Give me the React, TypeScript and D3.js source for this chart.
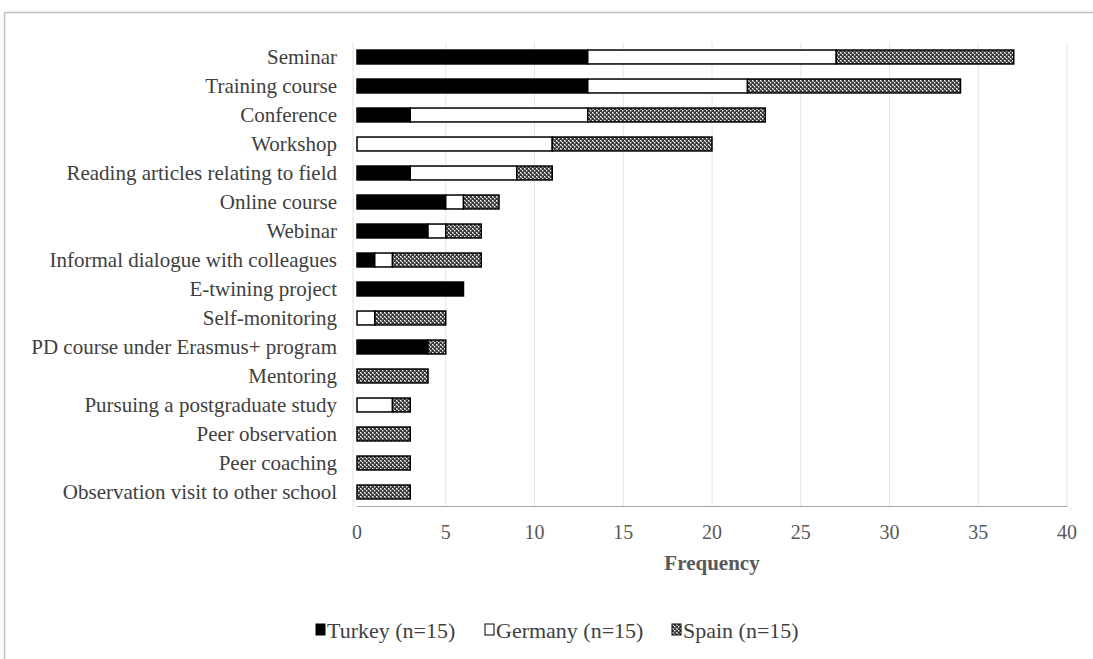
import React from "react";
import * as d3 from "d3";

const categories = [
  "Seminar",
  "Training course",
  "Conference",
  "Workshop",
  "Reading articles relating to field",
  "Online course",
  "Webinar",
  "Informal dialogue with colleagues",
  "E-twining project",
  "Self-monitoring",
  "PD course under Erasmus+ program",
  "Mentoring",
  "Pursuing a postgraduate study",
  "Peer observation",
  "Peer coaching",
  "Observation visit to other school",
];
const turkey = [13, 13, 3, 0, 3, 5, 4, 1, 6, 0, 4, 0, 0, 0, 0, 0];
const germany = [14, 9, 10, 11, 6, 1, 1, 1, 0, 1, 0, 0, 2, 0, 0, 0];
const spain = [10, 12, 10, 9, 2, 2, 2, 5, 0, 4, 1, 4, 1, 3, 3, 3];
const seriesNames = ["Turkey (n=15)", "Germany (n=15)", "Spain (n=15)"];
const xTicks = [0, 5, 10, 15, 20, 25, 30, 35, 40];

const W = 1093;
const H = 659;
const M = { left: 357, right: 1067, top: 42.5, bottom: 506.5 };
const FONT = "Liberation Serif, DejaVu Serif, serif";

export default function App() {
  const x = d3.scaleLinear().domain([0, 40]).range([M.left, M.right]);
  const y = d3
    .scaleBand<string>()
    .domain(categories)
    .range([M.top, M.bottom])
    .paddingInner(0.52)
    .paddingOuter(0.26);

  const series = [turkey, germany, spain];
  const fills = ["#000", "#fff", "url(#hatch)"];

  const rows = categories.map((c, i) => {
    let acc = 0;
    return series.map((s, k) => {
      const x0 = acc;
      acc += s[i];
      return { c, k, x0, x1: acc, v: s[i] };
    });
  });

  const legendItems = [
    { label: seriesNames[0], x: 316 },
    { label: seriesNames[1], x: 485 },
    { label: seriesNames[2], x: 672 },
  ];

  return (
    <svg
      width={W}
      height={H}
      style={{ position: "absolute", left: 0, top: 0, background: "#fff" }}
    >
      <defs>
        <pattern id="hatch" width="4" height="4" patternUnits="userSpaceOnUse">
          <rect width="4" height="4" fill="#3a3a3a" />
          <rect x="0" y="0" width="1.4" height="1.4" fill="#fff" />
          <rect x="2" y="2" width="1.4" height="1.4" fill="#fff" />
          <rect x="1" y="1" width="1" height="1" fill="#bbb" />
        </pattern>
      </defs>
      {/* outer frame */}
      <line x1={4.5} y1={12.5} x2={W} y2={12.5} stroke="#bfbfbf" strokeWidth={1.5} />
      <line x1={4.5} y1={12.5} x2={4.5} y2={H} stroke="#bfbfbf" strokeWidth={1.5} />

      {/* gridlines */}
      {xTicks.slice(1).map((t) => (
        <line
          key={t}
          x1={x(t)}
          x2={x(t)}
          y1={M.top}
          y2={M.bottom}
          stroke="#e6e6e6"
          strokeWidth={1}
        />
      ))}
      {/* axis lines */}
      <line x1={M.left} x2={M.right} y1={M.bottom} y2={M.bottom} stroke="#a6a6a6" strokeWidth={1} />
      <line x1={M.left - 4} x2={M.left - 4} y1={M.top} y2={M.bottom} stroke="#e0e0e0" strokeWidth={1} />

      {/* bars */}
      {rows.map((segs) =>
        segs
          .filter((s) => s.v > 0)
          .map((s) => (
            <rect
              key={s.c + s.k}
              x={x(s.x0)}
              y={y(s.c)!}
              width={x(s.x1) - x(s.x0)}
              height={y.bandwidth()}
              fill={fills[s.k]}
              stroke="#000"
              strokeWidth={1.5}
            />
          ))
      )}

      {/* category labels */}
      {categories.map((c) => (
        <text
          key={c}
          x={337}
          y={y(c)! + y.bandwidth() / 2}
          dy="0.33em"
          textAnchor="end"
          fontFamily={FONT}
          fontSize={21}
          fill="#404040"
        >
          {c}
        </text>
      ))}

      {/* tick labels */}
      {xTicks.map((t) => (
        <text
          key={t}
          x={x(t)}
          y={532}
          dy="0.35em"
          textAnchor="middle"
          fontFamily={FONT}
          fontSize={20}
          fill="#595959"
        >
          {t}
        </text>
      ))}
      <text
        x={(M.left + M.right) / 2}
        y={563}
        dy="0.35em"
        textAnchor="middle"
        fontFamily={FONT}
        fontSize={21}
        fontWeight="bold"
        fill="#595959"
      >
        Frequency
      </text>

      {/* legend */}
      {legendItems.map((it, k) => (
        <g key={it.label}>
          <rect
            x={it.x}
            y={624}
            width={9}
            height={11}
            fill={fills[k]}
            stroke="#000"
            strokeWidth={1}
          />
          <text
            x={it.x + 11}
            y={630}
            dy="0.35em"
            fontFamily={FONT}
            fontSize={22}
            fill="#404040"
          >
            {it.label}
          </text>
        </g>
      ))}
    </svg>
  );
}
